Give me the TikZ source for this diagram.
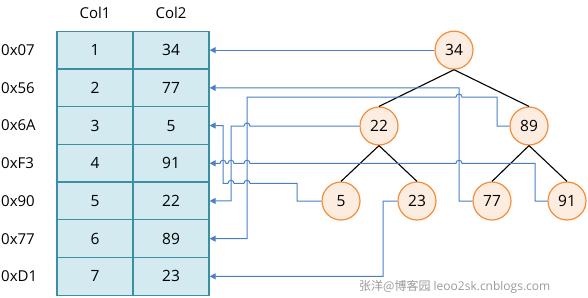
\documentclass[tikz,border=0pt]{standalone}
\usepackage{fontspec}
\setmainfont{Open Sans}
\newfontfamily\cjkfont{Noto Sans CJK SC}
\usetikzlibrary{arrows.meta}
\definecolor{cellfill}{HTML}{D3EAF0}
\definecolor{cellline}{HTML}{3A8FA3}
\definecolor{nodefill}{HTML}{FDEDE0}
\definecolor{nodeline}{HTML}{F68D3A}
\definecolor{linkc}{HTML}{4A7EC6}
\definecolor{wmgray}{HTML}{9A9A9A}
\begin{document}
\begin{tikzpicture}[x=1pt,y=-1pt,
  cell/.style={draw=cellline,fill=cellfill,line width=1.3pt,minimum width=76pt,minimum height=37.7pt,inner sep=0pt,font=\fontsize{15.5}{17}\selectfont},
  treenode/.style={circle,draw=nodeline,fill=nodefill,line width=1.2pt,minimum size=38pt,inner sep=0pt,font=\fontsize{15.5}{17}\selectfont},
  linkline/.style={draw=linkc,line width=1pt,-{Triangle[length=6pt,width=6pt]}},
  treeedge/.style={draw=black,line width=1.1pt},
  lbl/.style={anchor=west,inner sep=0pt,font=\fontsize{15}{17}\selectfont},
  hdr/.style={inner sep=0pt,font=\fontsize{15}{17}\selectfont}]
\useasboundingbox (0,0) rectangle (588,297);
% headers
\node[hdr] (h1) at (95,13) {Col1};
\node[hdr] (h2) at (171,13) {Col2};
% rows
\foreach \i/\a/\b/\lab in {1/1/34/0x07,2/2/77/0x56,3/3/5/0x6A,4/4/91/0xF3,5/5/22/0x90,6/6/89/0x77,7/7/23/0xD1}{
  \pgfmathsetmacro{\yy}{31.3+37.7*(\i-0.5)}
  \node[cell] (c1r\i) at (95,\yy) {\a};
  \node[cell] (c2r\i) at (171,\yy) {\b};
  \node[lbl] (l\i) at (1,\yy) {\lab};
}
% tree
\node[treenode] (n34) at (454,50.15) {34};
\node[treenode] (n22) at (379,126) {22};
\node[treenode] (n89) at (529,126) {89};
\node[treenode] (n5) at (341,201) {5};
\node[treenode] (n23) at (417,201) {23};
\node[treenode] (n77) at (492,201) {77};
\node[treenode] (n91) at (567,201) {91};
\draw[treeedge] (n34.south) -- (n22.north);
\draw[treeedge] (n34.south) -- (n89.north);
\draw[treeedge] (n22.south) -- (n5.north);
\draw[treeedge] (n22.south) -- (n23.north);
\draw[treeedge] (n89.south) -- (n77.north);
\draw[treeedge] (n89.south) -- (n91.north);
% links
\draw[linkline] (n34.west) -- (c2r1.east);
\draw[linkline] (n77.west) -- (459,201) -- (459,87.85) -- (c2r2.east);
\draw[linkline] (n5.west) -- (297,201) -- (297,183.3) -- (250,183.3)
   .. controls (250,179.3) and (244,179.3) .. (244,183.3) -- (234,183.3)
   .. controls (234,179.3) and (228,179.3) .. (228,183.3) -- (223,183.3)
   -- (223,125.55) -- (c2r3.east);
\draw[linkline] (n91.west) -- (535,201) -- (535,163.25) -- (462,163.25)
   .. controls (462,159.25) and (456,159.25) .. (456,163.25) -- (250,163.25)
   .. controls (250,159.25) and (244,159.25) .. (244,163.25) -- (234,163.25)
   .. controls (234,159.25) and (228,159.25) .. (228,163.25) -- (226,163.25)
   .. controls (226,159.25) and (220,159.25) .. (220,163.25) -- (c2r4.east);
\draw[linkline] (n22.west) -- (250,126)
   .. controls (250,122) and (244,122) .. (244,126) -- (231,126)
   -- (231,200.95) -- (c2r5.east);
\draw[linkline] (n89.west) -- (497,126) -- (497,97) -- (462,97)
   .. controls (462,93) and (456,93) .. (456,97) -- (247,97)
   -- (247,238.65) -- (c2r6.east);
\draw[linkline] (n23.west) -- (383,201) -- (383,276.35) -- (c2r7.east);
% watermark
\node[anchor=west,inner sep=0pt,text=wmgray,font=\fontsize{12}{14}\selectfont] (wm) at (359,287) {{\cjkfont 张洋@博客园} leoo2sk.cnblogs.com};
\end{tikzpicture}
\end{document}
